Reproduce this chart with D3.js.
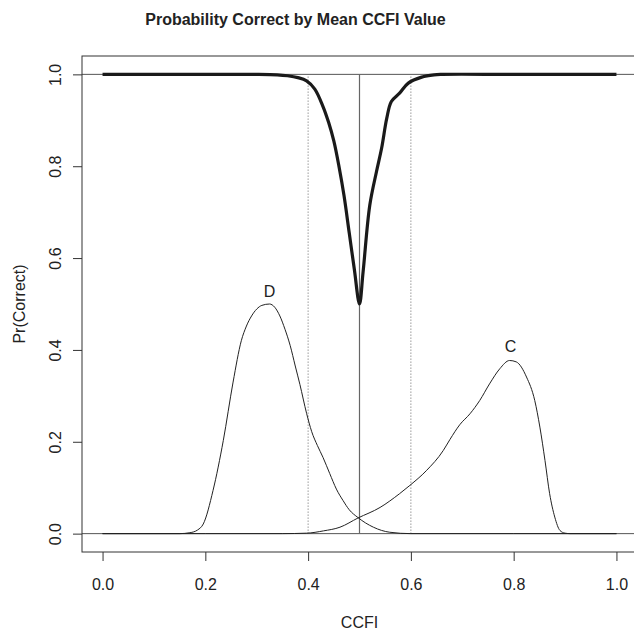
<!DOCTYPE html>
<html lang="en">
<meta charset="utf-8">
<head>
<script src="https://d3js.org/d3.v7.min.js"></script>
<style>
  body { margin: 0; background: #fff; }
  text { font-family: "Liberation Sans", Arial, sans-serif; fill: #222; }
</style>
</head>
<body>
<div id="my_dataviz"></div>
<script>

// Pr(Correct) curve
var probX = [0, 0.1, 0.2, 0.3, 0.34, 0.36, 0.38, 0.397, 0.413, 0.429, 0.44, 0.45, 0.46, 0.47, 0.48, 0.49, 0.5,
             0.507, 0.52, 0.533, 0.543, 0.553, 0.562, 0.578, 0.595, 0.621, 0.645, 0.66, 0.8, 1]
var probY = [1, 1, 1, 1, 0.999, 0.997, 0.993, 0.986, 0.968, 0.930, 0.895, 0.855, 0.800, 0.735, 0.655, 0.575, 0.5,
             0.570, 0.715, 0.788, 0.839, 0.904, 0.941, 0.959, 0.981, 0.994, 0.999, 1, 1, 1]

// density of D
var densDX = [0, 0.1, 0.15, 0.17, 0.185, 0.196, 0.215, 0.235, 0.254, 0.27, 0.28, 0.29, 0.3, 0.31, 0.325,
              0.335, 0.345, 0.355, 0.365, 0.375, 0.384, 0.397, 0.407, 0.418, 0.429, 0.442, 0.455, 0.468,
              0.48, 0.497, 0.527, 0.559, 0.6, 0.8, 1]
var densDY = [0, 0, 0, 0.002, 0.008, 0.021, 0.094, 0.203, 0.330, 0.420, 0.452, 0.474, 0.489, 0.497, 0.500,
              0.493, 0.474, 0.445, 0.410, 0.365, 0.325, 0.262, 0.222, 0.192, 0.166, 0.131, 0.097, 0.072,
              0.052, 0.035, 0.014, 0.003, 0, 0, 0]

// density of C
var densCX = [0, 0.2, 0.35, 0.397, 0.43, 0.462, 0.497, 0.54, 0.578, 0.598, 0.63, 0.663, 0.676, 0.695, 0.715,
              0.734, 0.753, 0.773, 0.792, 0.805, 0.825, 0.841, 0.851, 0.861, 0.870, 0.880, 0.890, 0.9, 0.91, 1]
var densCY = [0, 0, 0, 0.001, 0.006, 0.014, 0.034, 0.057, 0.087, 0.105, 0.137, 0.181, 0.205, 0.237, 0.261,
              0.290, 0.326, 0.359, 0.377, 0.374, 0.341, 0.290, 0.232, 0.159, 0.087, 0.036, 0.007, 0.001, 0, 0]

var cutoff = 0.5
var bounds = [0.4, 0.6]
var hLines = [0, 1]
var ticks = [0, 0.2, 0.4, 0.6, 0.8, 1.0]
var curveLabels = ["D", "C"]
var labelX = [0.325, 0.794]
var labelY = [0.528, 0.408]

var width = 634, height = 630

var svg = d3.select("#my_dataviz")
  .append("svg")
  .attr("width", width)
  .attr("height", height)

// R style: 4% padding each side
var xScale = d3.scaleLinear().domain([-0.04, 1.04]).range([82, 637])
var yScale = d3.scaleLinear().domain([-0.04, 1.04]).range([552, 56])

var zip = (xs, ys) => xs.map((v, i) => [v, ys[i]])
var line = d3.line().x(d => xScale(d[0])).y(d => yScale(d[1]))

// reference lines
svg.selectAll(".hline")
  .data(hLines)
  .enter().append("line")
    .attr("x1", xScale(-0.04)).attr("x2", xScale(1.04))
    .attr("y1", d => yScale(d)).attr("y2", d => yScale(d))
    .style("stroke", "#555").style("stroke-width", 1)

svg.selectAll(".dots")
  .data(bounds)
  .enter().append("line")
    .attr("x1", d => xScale(d)).attr("x2", d => xScale(d))
    .attr("y1", yScale(0)).attr("y2", yScale(1))
    .style("stroke", "#666").style("stroke-width", 1)
    .style("stroke-dasharray", "1,2")

svg.append("line")
  .attr("x1", xScale(cutoff)).attr("x2", xScale(cutoff))
  .attr("y1", yScale(0)).attr("y2", yScale(1))
  .style("stroke", "#666").style("stroke-width", 1.2)

// densities
svg.append("path")
  .datum(zip(densDX, densDY))
  .attr("d", line.curve(d3.curveMonotoneX))
  .style("fill", "none").style("stroke", "#222").style("stroke-width", 1)

svg.append("path")
  .datum(zip(densCX, densCY))
  .attr("d", line.curve(d3.curveMonotoneX))
  .style("fill", "none").style("stroke", "#222").style("stroke-width", 1)

// probability curve
svg.append("path")
  .datum(zip(probX, probY))
  .attr("d", line.curve(d3.curveCatmullRom.alpha(0.5)))
  .style("fill", "none").style("stroke", "#1a1a1a").style("stroke-width", 3.2)
  .style("stroke-linejoin", "round")

svg.selectAll(".lab")
  .data(curveLabels)
  .enter().append("text")
    .attr("x", (d, i) => xScale(labelX[i]))
    .attr("y", (d, i) => yScale(labelY[i]))
    .attr("dy", "0.36em")
    .attr("text-anchor", "middle")
    .style("font-size", "16px")
    .text(d => d)

// box
svg.append("rect")
  .attr("x", 82).attr("y", 56)
  .attr("width", 555).attr("height", 496)
  .style("fill", "none").style("stroke", "#333").style("stroke-width", 1)

// AXIS
var xAxis = svg.append("g")
  .attr("transform", "translate(0,552)")
  .call(d3.axisBottom(xScale).tickValues(ticks).tickFormat(d3.format(".1f"))
        .tickSize(9).tickSizeOuter(0).tickPadding(18))
xAxis.select(".domain").remove()
xAxis.selectAll("line").style("stroke", "#333")
xAxis.selectAll("text").style("font-size", "16px").style("fill", "#222")

var yAxis = svg.append("g")
  .attr("transform", "translate(82,0)")
  .call(d3.axisLeft(yScale).tickValues(ticks).tickFormat(d3.format(".1f"))
        .tickSize(9).tickSizeOuter(0))
yAxis.select(".domain").remove()
yAxis.selectAll("line").style("stroke", "#333")
yAxis.selectAll("text")
  .attr("transform", "rotate(-90)")
  .attr("x", 0).attr("y", -21.3).attr("dy", null)
  .attr("text-anchor", "middle")
  .style("font-size", "16px").style("fill", "#222")
yAxis.attr("font-family", null)
xAxis.attr("font-family", null)

// titles
svg.append("text")
  .attr("x", 295.5).attr("y", 25)
  .attr("text-anchor", "middle")
  .style("font-size", "16px").style("font-weight", "bold")
  .text("Probability Correct by Mean CCFI Value")

svg.append("text")
  .attr("x", 359.5).attr("y", 627.5)
  .attr("text-anchor", "middle")
  .style("font-size", "16px")
  .text("CCFI")

svg.append("text")
  .attr("transform", "translate(25," + 304 + ") rotate(-90)")
  .attr("text-anchor", "middle")
  .style("font-size", "16px")
  .text("Pr(Correct)")

</script>
</body>
</html>
